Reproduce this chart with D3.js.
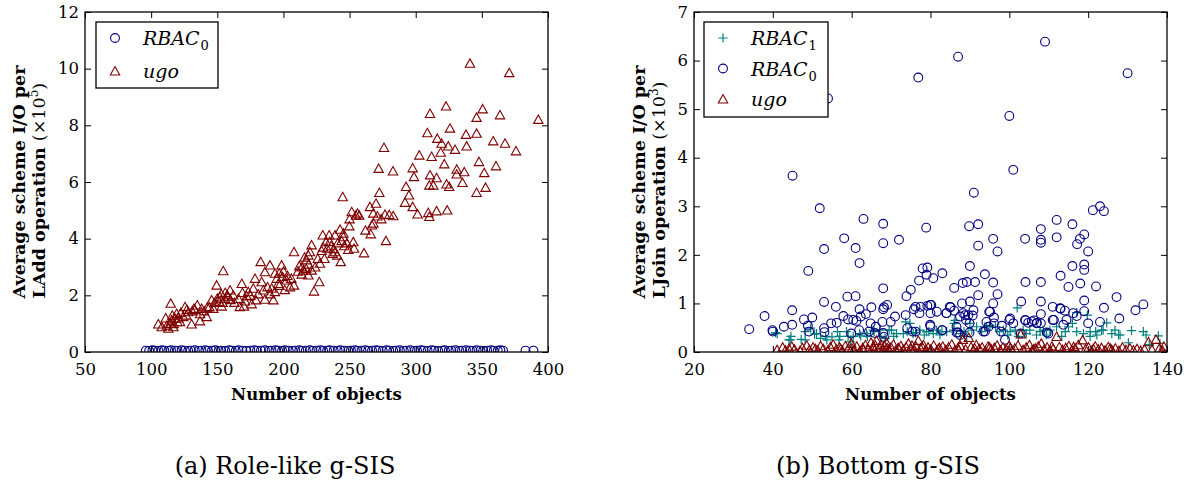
<!DOCTYPE html>
<html>
<head>
<meta charset="utf-8">
<script src="https://cdn.jsdelivr.net/npm/d3@7"></script>
<style>
  body { margin: 0; background: #fff; }
  svg text { fill: #000; }
</style>
</head>
<body>
<svg id="chart" width="1188" height="482"></svg>
<script>
// ---------- data ----------
// (a) Role-like g-SIS : average scheme I/O per LAdd operation vs number of objects
const xTicksA = [50, 100, 150, 200, 250, 300, 350, 400];
const yTicksA = [0, 2, 4, 6, 8, 10, 12];

const roleRbac0 = [[96,0.05],[98.5,0.04],[101,0.06],[103,0.05],[105.5,0.04],[108,0.06],[110,0.05],[113,0.04],[115,0.06],[118,0.05],[120,0.04],[123,0.06],[125.5,0.05],[128,0.04],[130,0.05],[133,0.06],[136,0.04],[138,0.05],[141,0.06],[143,0.04],[146,0.05],[148.5,0.06],[151,0.04],[153,0.05],[156,0.04],[159,0.06],[161,0.05],[164,0.04],[166,0.06],[169,0.05],[172,0.04],[175,0.05],[178,0.06],[180,0.04],[183,0.05],[186,0.06],[189,0.04],[191,0.05],[194,0.06],[196,0.05],[199,0.04],[201,0.06],[204,0.05],[207,0.04],[209,0.05],[212,0.06],[214,0.04],[217,0.05],[220,0.06],[222,0.04],[225,0.05],[228,0.06],[230,0.04],[233,0.05],[235,0.06],[238,0.05],[241,0.04],[243,0.06],[246,0.05],[249,0.04],[251,0.05],[254,0.06],[256,0.04],[259,0.05],[262,0.06],[264,0.04],[267,0.05],[270,0.06],[272,0.05],[275,0.04],[278,0.06],[280,0.05],[283,0.04],[285,0.05],[288,0.06],[291,0.04],[293,0.05],[296,0.06],[299,0.04],[301,0.05],[304,0.06],[306,0.05],[309,0.04],[312,0.06],[314,0.05],[317,0.04],[320,0.05],[322,0.06],[325,0.04],[327,0.05],[330,0.06],[333,0.04],[335,0.05],[338,0.06],[341,0.05],[343,0.04],[346,0.06],[349,0.05],[351,0.04],[354,0.05],[357,0.06],[359,0.04],[362,0.05],[364,0.06],[366,0.05],[383,0.05],[389,0.05]];

const roleUgo = [[105.4,0.99],[108,0.89],[111,1.2],[112,0.95],[113,0.84],[114.3,1.01],[114.8,1.72],[115.5,1.13],[116,1.3],[116.8,0.89],[117,1.0],[118,1.19],[119.3,1.36],[119.8,1.07],[120.5,1.2],[121.8,1.07],[122.5,1.4],[124.3,1.25],[125.6,1.6],[126.5,1.3],[127,1.5],[128.1,1.42],[130.6,0.99],[131,1.45],[132.4,1.54],[133,1.5],[134.9,1.66],[136.9,1.1],[137,1.35],[138.2,1.54],[140,1.45],[142,1.25],[142.5,1.58],[144,1.6],[145.7,1.84],[147,1.54],[148,1.75],[149.5,2.36],[150,1.9],[151.5,1.78],[152,1.95],[153,2.05],[153.3,1.62],[154,1.75],[154.5,2.87],[155.8,1.89],[156,2.1],[157.6,2.01],[158,1.95],[159.6,2.19],[160,1.85],[162.1,2.01],[163,1.75],[165.9,1.89],[167,1.6],[168.5,2.42],[169,2.1],[170.2,1.62],[171,1.8],[172.2,1.98],[173.4,2.13],[175,2.0],[176,1.7],[177.2,2.25],[178.5,2.6],[179.3,1.84],[181,2.05],[182.8,3.19],[183.5,2.48],[184.8,2.19],[186,2.83],[186,1.86],[188,2.3],[189.8,3.07],[190,2.05],[191.1,2.25],[192.4,1.84],[193.6,2.78],[193.6,2.13],[195,2.6],[196.1,2.42],[196.8,2.78],[197,2.35],[198.6,3.07],[199.4,2.66],[200,2.85],[201,2.2],[202.4,2.54],[203,2.7],[205,2.3],[206,2.6],[208,2.36],[208,3.54],[211,2.85],[212,3.04],[213.8,2.75],[214,3.0],[215,2.89],[216,3.35],[217.1,2.95],[217.5,3.25],[218.8,3.42],[218.8,2.72],[219,3.1],[220,3.54],[221.3,3.78],[221.3,2.89],[223.1,2.15],[224,3.0],[226,3.3],[227.1,2.48],[227.6,3.13],[228.9,3.58],[229.7,4.13],[230,3.7],[231,3.3],[232.2,3.89],[233.1,3.66],[234.6,4.13],[235,3.9],[236,3.75],[237.2,3.48],[238,3.65],[239,4.13],[239,3.54],[240.7,3.42],[241,3.85],[242.8,4.33],[243.3,3.19],[244,3.93],[244.8,5.48],[245.3,4.19],[245.3,4.07],[246,3.75],[248,3.85],[249,3.62],[249.8,4.45],[250,4.7],[251.6,4.95],[252.8,3.89],[253.4,3.66],[254.8,4.83],[256,4.9],[257.3,4.83],[260.9,3.5],[262,4.3],[265.4,5.13],[266,4.17],[266.9,4.48],[267.9,4.9],[268,4.55],[270,5.25],[271,4.8],[272,6.48],[272.5,5.63],[274,4.7],[276,7.22],[276.8,4.86],[277.5,3.93],[280,4.85],[282.8,6.39],[283,4.81],[291.9,5.28],[292.7,5.84],[294.9,5.54],[297.7,6.5],[297.7,5.13],[298.7,6.19],[301.4,4.87],[302.7,6.95],[308.8,7.74],[309.5,4.92],[310.3,4.78],[310.3,5.89],[310.8,8.42],[310.8,6.25],[312,6.9],[313.3,5.89],[315.8,6.15],[315.8,4.98],[316.3,7.54],[318.9,7.05],[319.6,7.37],[321.6,6.64],[322.9,8.68],[323.3,5.93],[323.8,5.01],[324.6,7.27],[325.3,5.84],[325.9,7.9],[329.7,7.15],[331,6.45],[331,6.28],[335.4,5.98],[336.7,6.36],[338,7.68],[338.5,7.27],[341,10.19],[346,8.28],[346,7.72],[346,5.63],[347.8,6.72],[350.6,8.58],[351.8,6.33],[352.8,5.81],[358.6,7.45],[360.7,6.57],[363.7,8.37],[367.5,7.37],[370.7,9.86],[375.8,7.1],[392.7,8.21]];

// (b) Bottom g-SIS : average scheme I/O per LJoin operation vs number of objects
const xTicksB = [20, 40, 60, 80, 100, 120, 140];
const yTicksB = [0, 1, 2, 3, 4, 5, 6, 7];

const bottomRbac1 = [[40.7,0.40],[41.1,0.38],[44.1,0.25],[44.4,0.25],[44.6,0.32],[47.2,0.26],[48.2,0.25],[48.2,0.42],[49.6,0.49],[50.6,0.37],[51.1,0.38],[52.1,0.28],[53.4,0.32],[53.7,0.25],[55,0.31],[56.4,0.42],[56.8,0.25],[57.0,0.32],[58.7,0.42],[59.1,0.32],[59.7,0.21],[60.4,0.32],[62,0.38],[62.3,0.33],[63.8,0.38],[64.0,0.32],[65.5,0.45],[65.7,0.42],[67.2,0.45],[67.4,0.32],[68.5,0.28],[69.5,0.45],[70.1,0.45],[70.7,0.32],[71.4,0.38],[73.1,0.38],[73.7,0.62],[74.1,0.42],[74.8,0.59],[75.6,0.38],[76.2,0.40],[77.3,0.45],[78.4,0.35],[79.0,0.42],[79.6,0.42],[80.7,0.38],[81.5,0.45],[82.4,0.35],[82.9,0.42],[84.1,0.42],[85.8,0.45],[86,0.59],[86.2,0.65],[87.6,0.38],[88.5,0.42],[89.2,0.32],[90,0.59],[90.5,0.45],[91.7,0.52],[93,0.42],[93.8,0.52],[94.2,0.52],[95.1,0.55],[96.5,0.52],[97.5,0.42],[98.5,0.45],[99.6,0.35],[100.2,0.42],[101.5,0.45],[102,0.91],[102.3,0.32],[103.5,0.45],[104.3,0.38],[105.2,0.45],[106.9,0.35],[107.8,0.42],[108.6,0.45],[109.4,0.35],[110.3,0.45],[112,0.52],[113.3,0.32],[114.2,0.42],[115,0.52],[116,0.59],[117.1,0.42],[117.1,0.81],[118.8,0.38],[119.8,0.76],[120.5,0.32],[120.5,0.42],[121.9,0.42],[122.2,0.35],[123.4,0.45],[123.8,0.45],[124.7,0.6],[126,0.38],[126.8,0.45],[127.7,0.35],[128.1,0.35],[130.2,0.19],[131,0.44],[134,0.42],[134.7,0.35],[135.5,0.15],[137.8,0.33],[138.2,0.18]];

const bottomRbac0 = [[34,0.47],[37.9,0.74],[39.9,0.45],[40,0.42],[42.8,0.52],[44.9,0.86],[44.9,0.56],[45,3.63],[47.9,0.67],[48.9,0.54],[49,1.67],[49.2,0.42],[50,0.71],[51.9,2.96],[53,2.12],[53,1.03],[53,0.49],[53.1,0.41],[54,5.22],[54.8,0.59],[56,0.93],[56.2,0.6],[57.9,0.74],[58.1,2.34],[58.9,1.14],[59.1,0.67],[59.9,0.38],[60.4,0.66],[61,2.14],[61,1.15],[61.2,0.64],[61.9,0.45],[62,1.83],[62,0.88],[62.3,0.73],[63,2.74],[63.6,0.78],[64.4,0.42],[64.8,0.59],[65,0.92],[65.9,0.39],[66.1,0.52],[67.8,0.62],[68,2.64],[68,2.24],[68,1.31],[68,0.88],[68,0.39],[68.2,0.31],[68.2,0.92],[69,0.97],[69.9,0.62],[71,0.73],[72,2.31],[73.7,0.76],[73.9,1.15],[74.1,0.49],[75,1.28],[75.4,0.42],[75.8,0.88],[76.2,0.93],[76.2,0.42],[76.9,5.65],[77.1,1.47],[77.2,0.8],[77.5,0.93],[78,1.72],[78.9,2.56],[79,1.59],[79.2,1.74],[79.2,0.95],[79.9,0.97],[79.9,0.56],[80,0.8],[80,0.53],[80.2,0.97],[80.7,1.52],[81.6,0.83],[82.9,0.45],[83,1.62],[83,0.45],[84,0.8],[84.1,0.8],[84.9,0.93],[85.1,0.92],[86,1.32],[86,0.85],[86.6,0.52],[86.6,0.4],[87,6.08],[87,0.4],[87.5,0.73],[87.5,0.35],[88,1.0],[88.2,1.42],[88.3,0.8],[88.8,0.76],[89,0.66],[89.2,1.44],[89.6,0.76],[89.8,2.59],[89.9,0.59],[89.9,0.4],[90,1.77],[90,1.04],[90.7,0.75],[90.9,0.86],[91,3.28],[91.3,1.44],[92.1,2.63],[92.1,2.19],[92.1,1.17],[93.4,0.42],[93.8,1.6],[93.8,0.42],[94.2,0.62],[94.7,0.52],[94.9,0.83],[95.1,0.83],[95.9,2.33],[95.9,1.43],[95.9,1.0],[96.1,0.71],[96.1,0.59],[97,2.07],[97,1.19],[97.9,0.42],[98.1,0.54],[98.9,0.25],[100,4.86],[100,0.66],[100.2,0.69],[101,3.75],[101,0.59],[102.9,0.38],[103,1.04],[104,2.33],[104,0.66],[104.1,1.44],[104.1,0.65],[104.8,0.6],[105.7,0.63],[106.3,0.65],[106.9,0.59],[107,0.6],[108,2.53],[108,2.31],[108,2.25],[108,1.44],[108,1.04],[108,0.78],[108,0.59],[109.05,6.39],[109.5,0.4],[109.9,0.38],[111,0.93],[111,0.66],[111.3,0.66],[112,2.72],[112,2.36],[112.9,0.9],[113,1.57],[113,0.89],[113.7,0.56],[114.1,0.85],[114.5,0.66],[115,1.34],[116,2.63],[116,1.77],[116.2,0.8],[117.1,0.74],[117.2,2.22],[117.9,2.33],[118,1.41],[119,2.42],[119,1.8],[119,1.69],[119,1.06],[119,0.84],[120,2.07],[120,0.59],[121.2,2.92],[122,1.35],[123,3.0],[123,0.62],[124,2.9],[124,0.91],[127.2,1.13],[127.9,0.69],[130,5.74],[132,0.86],[134,0.98]];

const bottomUgo = [[41.1,0.05],[42.5,0.1],[43.2,0.04],[44.1,0.07],[44.8,0.12],[45.5,0.06],[46.9,0.03],[47.5,0.09],[48.6,0.14],[49.3,0.05],[50.2,0.1],[50.8,0.07],[51.4,0.04],[52.1,0.13],[52.8,0.07],[53.9,0.03],[54.6,0.11],[55.3,0.16],[56.1,0.06],[56.9,0.1],[57.2,0.07],[57.6,0.04],[58.4,0.13],[59.2,0.08],[59.9,0.18],[60.1,0.08],[60.6,0.05],[61.3,0.12],[62.1,0.03],[62.8,0.09],[63.0,0.05],[63.5,0.15],[64.2,0.06],[64.9,0.2],[65.4,0.11],[65.8,0.04],[66.0,0.14],[66.3,0.24],[66.9,0.08],[67.4,0.15],[67.9,0.03],[68.3,0.12],[68.8,0.2],[69.0,0.09],[69.4,0.06],[70.0,0.1],[70.6,0.16],[71.2,0.04],[71.8,0.09],[72.0,0.07],[72.5,0.13],[73.1,0.05],[73.8,0.11],[74.4,0.18],[75.0,0.07],[75.3,0.14],[75.7,0.03],[76.3,0.12],[76.9,0.24],[77.5,0.08],[77.9,0.11],[78.2,0.15],[78.8,0.04],[79.4,0.1],[80.1,0.06],[80.8,0.14],[81.6,0.03],[82.0,0.07],[82.3,0.09],[83.1,0.12],[83.9,0.05],[84.6,0.1],[85.4,0.16],[86.2,0.04],[86.9,0.08],[87.2,0.05],[87.6,0.13],[88.2,0.26],[88.9,0.06],[89.7,0.3],[90.3,0.11],[90.9,0.04],[91.2,0.08],[91.6,0.15],[92.4,0.07],[93.1,0.1],[93.9,0.03],[94.6,0.12],[95.0,0.1],[95.4,0.06],[96.2,0.09],[96.9,0.14],[97.7,0.04],[98.4,0.1],[99.2,0.06],[99.9,0.13],[100.3,0.09],[100.7,0.03],[101.4,0.08],[102.2,0.14],[102.9,0.37],[103.5,0.05],[104.3,0.1],[105.1,0.15],[105.8,0.04],[106.2,0.06],[106.6,0.08],[107.3,0.12],[108.1,0.18],[108.8,0.05],[109.6,0.1],[110.4,0.03],[110.8,0.12],[111.1,0.07],[112,0.32],[112.7,0.11],[113.5,0.05],[114.3,0.09],[115.1,0.13],[115.9,0.04],[116.3,0.11],[116.7,0.08],[117.5,0.15],[118.6,0.25],[119.3,0.06],[120.1,0.1],[120.9,0.03],[121.3,0.07],[121.8,0.12],[122.6,0.06],[123.4,0.09],[124.3,0.04],[125.1,0.11],[125.6,0.08],[126,0.05],[126.9,0.08],[127.8,0.03],[128.7,0.1],[129.6,0.05],[130.6,0.08],[131.5,0.04],[132.4,0.07],[133.3,0.03],[134.3,0.06],[135.3,0.21],[136.2,0.05],[137.2,0.26],[138.1,0.08],[138.9,0.03],[139.2,0.12]];

// ---------- styles ----------
const NAVY = "#00007f", MAROON = "#7f0000", TEAL = "#007f7f";
const SERIF = "'DejaVu Serif', serif";
const svg = d3.select("#chart");

// marker painters, centred on (0,0)
const markers = {
  circle: (sel, color) => sel.append("circle").attr("r", 4.4)
      .attr("fill", "none").attr("stroke", color).attr("stroke-width", 1.1),
  triangle: (sel, color) => sel.append("path").attr("d", "M0,-4.4L4.7,4L-4.7,4Z")
      .attr("fill", "none").attr("stroke", color).attr("stroke-width", 1.1).attr("stroke-linejoin", "miter"),
  plus: (sel, color) => sel.append("path").attr("d", "M-4.6,0H4.6M0,-4.6V4.6")
      .attr("fill", "none").attr("stroke", color).attr("stroke-width", 1.2)
};

function drawPanel(cfg) {
  const g = svg.append("g");
  const x = d3.scaleLinear().domain(cfg.xDomain).range([cfg.left, cfg.right]);
  const y = d3.scaleLinear().domain(cfg.yDomain).range([cfg.bottom, cfg.top]);

  const clipId = "clip-" + cfg.id;
  svg.append("defs").append("clipPath").attr("id", clipId)
    .append("rect").attr("x", cfg.left).attr("y", cfg.top)
    .attr("width", cfg.right - cfg.left).attr("height", cfg.bottom - cfg.top);

  // scatter series
  const plot = g.append("g").attr("clip-path", `url(#${clipId})`);
  cfg.series.forEach(s => {
    const pts = plot.append("g").selectAll("g").data(s.data).join("g")
      .attr("transform", d => `translate(${x(d[0])},${y(d[1])})`);
    markers[s.shape](pts, s.color);
  });

  // axes: inward ticks on all four sides
  const tickLen = 6;
  const fmt = d3.format("d");
  const styleAxis = a => {
    a.select(".domain").remove();
    a.selectAll(".tick line").attr("stroke", "#000").attr("stroke-width", 1);
    a.selectAll("text").attr("font-size", null).attr("font-family", null)
      .style("font-family", SERIF).style("font-size", "16.5px").attr("fill", "#000");
  };
  g.append("g").attr("transform", `translate(0,${cfg.bottom})`)
    .call(d3.axisBottom(x).tickValues(cfg.xTicks).tickFormat(fmt).tickSizeInner(-tickLen).tickSizeOuter(0).tickPadding(11))
    .call(styleAxis);
  g.append("g").attr("transform", `translate(0,${cfg.top})`)
    .call(d3.axisTop(x).tickValues(cfg.xTicks).tickSizeInner(-tickLen).tickSizeOuter(0).tickFormat(""))
    .call(styleAxis);
  g.append("g").attr("transform", `translate(${cfg.left},0)`)
    .call(d3.axisLeft(y).tickValues(cfg.yTicks).tickFormat(fmt).tickSizeInner(-tickLen).tickSizeOuter(0).tickPadding(6))
    .call(styleAxis);
  g.append("g").attr("transform", `translate(${cfg.right},0)`)
    .call(d3.axisRight(y).tickValues(cfg.yTicks).tickSizeInner(-tickLen).tickSizeOuter(0).tickFormat(""))
    .call(styleAxis);

  // frame
  g.append("rect").attr("x", cfg.left).attr("y", cfg.top)
    .attr("width", cfg.right - cfg.left).attr("height", cfg.bottom - cfg.top)
    .attr("fill", "none").attr("stroke", "#000").attr("stroke-width", 1.3);

  // x axis title
  g.append("text").attr("x", (cfg.left + cfg.right) / 2).attr("y", cfg.bottom + 48)
    .attr("text-anchor", "middle")
    .style("font-family", SERIF).style("font-weight", "bold").style("font-size", "16.5px")
    .text("Number of objects");

  // y axis title: two rotated lines sharing a start point, block centred on the axis
  const cy = (cfg.top + cfg.bottom) / 2;
  const yt = g.append("g").style("font-family", SERIF).style("font-size", "17.5px").style("font-weight", "bold");
  const l1 = yt.append("text").attr("transform", `translate(${cfg.yLabelX},0) rotate(-90)`)
    .text("Average scheme I/O per");
  const l2 = yt.append("text").attr("transform", `translate(${cfg.yLabelX + 20},0) rotate(-90)`);
  l2.append("tspan").text(cfg.opName + " operation ");
  l2.append("tspan").style("font-weight", "normal").text("(×10");
  l2.append("tspan").style("font-weight", "normal").style("font-size", "12px").attr("dy", -7).text(cfg.expo);
  l2.append("tspan").style("font-weight", "normal").attr("dy", 7).text(")");
  const w = Math.max(l1.node().getComputedTextLength(), l2.node().getComputedTextLength());
  const startY = cy + w / 2;
  l1.attr("x", -startY);
  l2.attr("x", -startY);

  // legend
  const lg = g.append("g");
  lg.append("rect").attr("x", cfg.legend.x).attr("y", cfg.legend.y)
    .attr("width", cfg.legend.w).attr("height", cfg.legend.h)
    .attr("fill", "#fff").attr("stroke", "#000").attr("stroke-width", 1.3);
  cfg.series.slice().sort((a, b) => a.legendOrder - b.legendOrder).forEach((s, i) => {
    const ey = cfg.legend.y + cfg.legend.first + i * cfg.legend.step;
    const m = lg.append("g").attr("transform", `translate(${cfg.legend.x + 19},${ey})`);
    markers[s.shape](m, s.color);
    const t = lg.append("text").attr("x", cfg.legend.x + 47).attr("y", ey + 7)
      .style("font-family", SERIF).style("font-style", "italic").style("font-size", "19px").text(s.name);
    if (s.sub !== undefined) {
      t.append("tspan").style("font-style", "normal").style("font-size", "13px")
        .attr("dy", 5).attr("dx", 1).text(s.sub);
    }
  });

  // sub-figure caption
  svg.append("text").attr("x", cfg.captionX).attr("y", 474).attr("text-anchor", "middle")
    .style("font-family", SERIF).style("font-size", "24px").text(cfg.caption);
}

drawPanel({
  id: "a", left: 85, right: 548, top: 12, bottom: 352,
  xDomain: [50, 400], yDomain: [0, 12], xTicks: xTicksA, yTicks: yTicksA,
  yLabelX: 25, opName: "LAdd", expo: "5",
  series: [
    { name: "RBAC", sub: "0", shape: "circle", color: NAVY, data: roleRbac0, legendOrder: 0 },
    { name: "ugo", shape: "triangle", color: MAROON, data: roleUgo, legendOrder: 1 }
  ],
  legend: { x: 96, y: 22, w: 122, h: 66, first: 16, step: 33 },
  caption: "(a) Role-like g-SIS", captionX: 285
});

drawPanel({
  id: "b", left: 694, right: 1167, top: 12, bottom: 352,
  xDomain: [20, 140], yDomain: [0, 7], xTicks: xTicksB, yTicks: yTicksB,
  yLabelX: 645, opName: "LJoin", expo: "3",
  series: [
    { name: "RBAC", sub: "1", shape: "plus", color: TEAL, data: bottomRbac1, legendOrder: 0 },
    { name: "RBAC", sub: "0", shape: "circle", color: NAVY, data: bottomRbac0, legendOrder: 1 },
    { name: "ugo", shape: "triangle", color: MAROON, data: bottomUgo, legendOrder: 2 }
  ],
  legend: { x: 704, y: 22, w: 124, h: 95, first: 16, step: 30.5 },
  caption: "(b) Bottom g-SIS", captionX: 878
});
</script>
</body>
</html>
